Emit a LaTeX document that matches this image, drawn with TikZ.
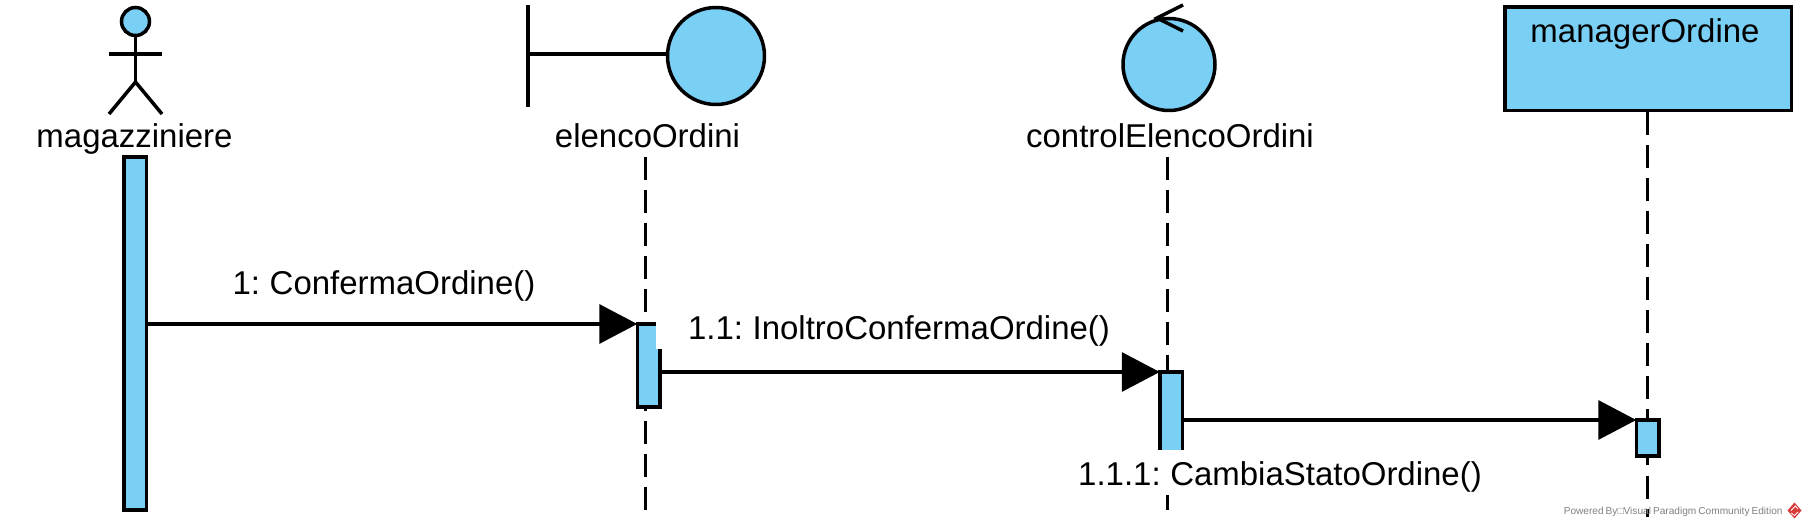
\documentclass[tikz,border=0pt]{standalone}
\usepackage{fontspec}
\setmainfont[WordSpace=0.72]{Liberation Sans}
\usetikzlibrary{arrows.meta}
\definecolor{vpblue}{HTML}{7ACFF5}
\definecolor{vpred}{HTML}{D93A3A}
\tikzset{
  lifeline/.style={draw=black, dash pattern=on 0.23cm off 0.10cm},
  activation/.style={draw=black, fill=vpblue, rectangle, inner sep=0pt, outer sep=0pt, minimum width=0.225cm},
  roundshape/.style={draw=black, fill=vpblue, circle, inner sep=0pt},
  message/.style={draw=black, -{Triangle[length=0.38cm,width=0.39cm]}},
  msglabel/.style={fill=white, anchor=base, inner xsep=0.32cm, inner ysep=0pt, text height=0.36cm, text depth=0.09cm},
  rolename/.style={anchor=base, inner sep=0pt}
}
\begin{document}
\begin{tikzpicture}[line width=0.035cm, font=\fontsize{9.38pt}{11pt}\selectfont]
\useasboundingbox (0,0) rectangle (18.06,5.28);
% lifelines
\coordinate (elencoTop) at (6.455,3.71);
\coordinate (elencoEnd) at (6.455,0.18);
\coordinate (controlTop) at (11.675,3.71);
\coordinate (controlEnd) at (11.675,0.18);
\coordinate (managerEnd) at (16.475,0.11);
\draw[lifeline] (elencoTop) -- (elencoEnd);
\draw[lifeline] (controlTop) -- (controlEnd);
\node[draw=black, fill=vpblue, rectangle, inner sep=0pt, minimum width=2.865cm, minimum height=1.035cm] (managerBox) at (16.48,4.69) {};
\draw[lifeline] (managerBox.south -| managerEnd) -- (managerEnd);
\node[rolename] (managerName) at (16.45,4.855) {managerOrdine};
% actor
\node[roundshape, minimum size=0.28cm] (actorHead) at (1.355,5.065) {};
\coordinate (actorHip) at (1.355,4.46);
\coordinate (actorArmL) at (1.09,4.74);
\coordinate (actorArmR) at (1.62,4.74);
\coordinate (actorFootL) at (1.09,4.14);
\coordinate (actorFootR) at (1.62,4.14);
\draw (actorHead) -- (actorHip);
\draw (actorArmL) -- (actorArmR);
\draw (actorFootL) -- (actorHip) -- (actorFootR);
\node[rolename] (actorName) at (1.345,3.80) {magazziniere};
% boundary
\coordinate (boundaryTop) at (5.28,5.23);
\coordinate (boundaryEnd) at (5.28,4.21);
\coordinate (boundaryMid) at (5.28,4.74);
\node[roundshape, minimum size=0.97cm] (boundaryCircle) at (7.16,4.72) {};
\draw (boundaryTop) -- (boundaryEnd);
\draw (boundaryMid) -- (boundaryMid -| boundaryCircle.west);
\node[rolename] (boundaryName) at (6.475,3.80) {elencoOrdini};
% control
\node[roundshape, minimum size=0.92cm] (controlCircle) at (11.69,4.635) {};
\coordinate (controlTipA) at (11.83,5.23);
\coordinate (controlTipB) at (11.57,5.10);
\coordinate (controlTipC) at (11.83,4.97);
\draw (controlTipA) -- (controlTipB) -- (controlTipC);
\node[rolename] (controlName) at (11.70,3.80) {controlElencoOrdini};
% activations
\node[activation, minimum height=3.53cm] (actorBar) at (1.3525,1.945) {};
\node[activation, minimum height=0.83cm] (elencoBar) at (6.485,1.625) {};
\node[activation, minimum height=0.98cm] (controlBar) at (11.71,1.07) {};
\node[activation, minimum height=0.36cm] (managerBar) at (16.475,0.90) {};
% labels
\node[msglabel] (msgOne) at (3.84,2.33) {1: ConfermaOrdine()};
\node[msglabel] (msgTwo) at (8.99,1.88) {1.1: InoltroConfermaOrdine()};
\node[msglabel] (msgThree) at (12.80,0.42) {1.1.1: CambiaStatoOrdine()};
% messages
\draw[message] (actorBar.east |- elencoBar.north west) -- (elencoBar.north west);
\draw[message] (elencoBar.east |- controlBar.north west) -- (controlBar.north west);
\draw[message] (controlBar.east |- managerBar.north west) -- (managerBar.north west);
% watermark
\node[anchor=base west, inner sep=0pt, text=black!50, font=\fontsize{2.88pt}{4pt}\selectfont] (poweredBy) at (15.62,0.13) {Powered By□Visual Paradigm Community Edition};
\fill[vpred] (17.945,0.255) -- (18.015,0.175) -- (17.945,0.095) -- (17.875,0.175) -- cycle;
\draw[white, line width=0.008cm] (17.91,0.175) -- (17.955,0.22) -- (17.98,0.19);
\draw[white, line width=0.008cm] (17.91,0.15) -- (17.945,0.125) -- (17.98,0.16);
\end{tikzpicture}
\end{document}
